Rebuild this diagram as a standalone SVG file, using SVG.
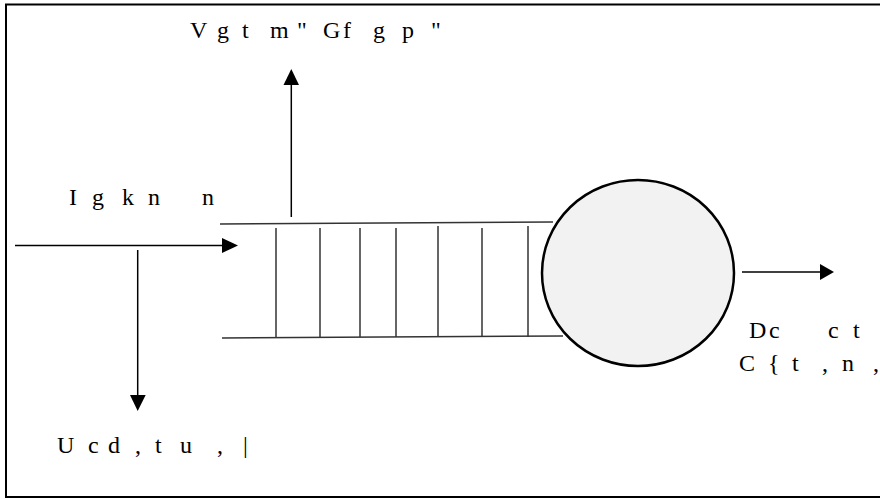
<svg xmlns="http://www.w3.org/2000/svg" width="880" height="499" viewBox="0 0 880 499">
<style>
.lbl{font-family:"Liberation Serif","Times New Roman",serif;font-size:24px;fill:#000}
.ln{stroke:#000;stroke-width:1.5;fill:none}
.q{stroke:#333;stroke-width:1.5;fill:none}
.hd{fill:#000;stroke:none}
</style>
<rect x="6" y="4.5" width="880" height="492.5" fill="#fff" stroke="#000" stroke-width="2"/>
<g id="queue">
<line class="q" x1="220" y1="224" x2="553" y2="222"/>
<line class="q" x1="222" y1="338" x2="563" y2="336"/>
<line class="q" x1="276" y1="228" x2="276" y2="337"/>
<line class="q" x1="320" y1="228" x2="320" y2="337"/>
<line class="q" x1="360" y1="228" x2="360" y2="337"/>
<line class="q" x1="396" y1="228" x2="396" y2="337"/>
<line class="q" x1="438" y1="226" x2="438" y2="337"/>
<line class="q" x1="482" y1="228" x2="482" y2="337"/>
<line class="q" x1="528" y1="226" x2="528" y2="337"/>
</g>
<g id="server">
<ellipse cx="638" cy="273" rx="96" ry="93" fill="#f2f2f2" stroke="#000" stroke-width="2.5"/>
</g>
<g id="connectors">
<line class="ln" x1="291.3" y1="217" x2="291.3" y2="84"/>
<polygon class="hd" points="291.3,69 283.5,85 299,85"/>
<line class="ln" x1="15" y1="245.5" x2="223" y2="245.5"/>
<polygon class="hd" points="238,245.5 222,238 222,253"/>
<line class="ln" x1="137.7" y1="250" x2="137.7" y2="396"/>
<polygon class="hd" points="137.7,411 130,395 145.7,395"/>
<line class="ln" x1="742" y1="272" x2="821" y2="272"/>
<polygon class="hd" points="834,272 820,264 820,280"/>
</g>
<g id="labels">
<text class="lbl" y="38" x="190 217 242 270 297 323 343 373 402 431">Vgtm"Gfgp"</text>
<text class="lbl" y="205" x="69 92 122 148 202">Igknn</text>
<text class="lbl" y="453" x="57 88 108 135 155 180 217 243">Ucd,tu,|</text>
<text class="lbl" y="338" x="749 769 828 853">Dcct</text>
<text class="lbl" y="371" x="739 768 792 822 842 873">C{t,n,</text>
</g>
</svg>
